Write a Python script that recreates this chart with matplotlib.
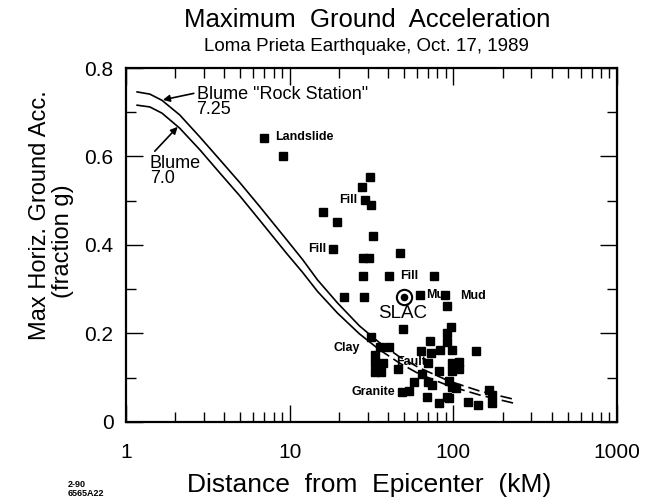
import matplotlib as mpl
from matplotlib import pyplot as plt
from matplotlib.ticker import FixedLocator, FixedFormatter, LogLocator, NullFormatter

mpl.rc('font', family='Liberation Sans')

# Blume "Rock Station" 7.25 curve
rock_x = [1.17, 1.40, 1.66, 2.13, 2.83, 3.74, 4.96, 6.56, 9.58, 12.0, 14.8,
          19.6, 26.7, 35.4, 46.9, 62.1, 94.6, 144, 229]
rock_y = [0.746, 0.741, 0.727, 0.694, 0.644, 0.593, 0.541, 0.487, 0.412, 0.367,
          0.321, 0.269, 0.217, 0.179, 0.147, 0.122, 0.092, 0.070, 0.052]

# Blume 7.0 curve
b70_x = [1.17, 1.40, 1.66, 2.13, 2.83, 3.74, 4.96, 6.56, 9.58, 12.0, 14.8,
         19.6, 26.7, 35.4, 46.9, 62.1, 94.6, 144, 242]
b70_y = [0.716, 0.712, 0.698, 0.664, 0.615, 0.563, 0.511, 0.456, 0.381, 0.338,
         0.295, 0.246, 0.199, 0.163, 0.133, 0.108, 0.081, 0.061, 0.041]

# index where the curves turn dashed
dash_from = 13

# recording stations
sta_dist = [6.94, 9.07, 31.2, 27.5, 28.7, 31.6, 16.1, 19.4, 32.1, 18.3, 27.9, 30.7,
            47.5, 27.9, 40.2, 76.6, 21.6, 28.3, 62.9, 89.4, 91.9, 49.5, 97.2, 91.9,
            31.6, 72.4, 91.9, 35.9, 40.7, 63.8, 73.4, 83.3, 98.6, 138, 33.4, 33.4,
            37.4, 33.4, 36.4, 46.2, 109, 98.6, 70.4, 109, 98.6, 82.2, 64.7, 94.6,
            70.4, 57.8, 74.5, 98.6, 104, 48.9, 53.9, 69.4, 91.9, 82.2, 94.6, 123,
            142, 173, 173, 166]
sta_acc = [0.642, 0.601, 0.554, 0.531, 0.502, 0.490, 0.475, 0.452, 0.420, 0.391,
           0.371, 0.371, 0.382, 0.330, 0.330, 0.330, 0.282, 0.282, 0.287, 0.287,
           0.262, 0.210, 0.215, 0.201, 0.192, 0.183, 0.181, 0.169, 0.169, 0.160,
           0.156, 0.163, 0.163, 0.160, 0.151, 0.133, 0.133, 0.113, 0.113, 0.120,
           0.136, 0.133, 0.133, 0.120, 0.115, 0.115, 0.108, 0.093, 0.090, 0.090,
           0.084, 0.079, 0.077, 0.068, 0.070, 0.056, 0.056, 0.043, 0.054, 0.045,
           0.038, 0.061, 0.043, 0.072]

slac_dist = [50.3]
slac_acc = [0.282]

y_ticks = [0, 0.2, 0.4, 0.6, 0.8]
y_tick_labels = ['0', '0.2', '0.4', '0.6', '0.8']
x_ticks = [1, 10, 100, 1000]
x_tick_labels = ['1', '10', '100', '1000']

fig = plt.figure(figsize=(6.46, 5.04), dpi=100)
ax = fig.add_axes([0.195, 0.163, 0.760, 0.702])

# curves: solid then dashed tail
ax.plot(rock_x[:dash_from + 1], rock_y[:dash_from + 1], color='black', lw=1.2)
ax.plot(rock_x[dash_from:], rock_y[dash_from:], color='black', lw=1.2, dashes=(7, 3))
ax.plot(b70_x[:dash_from + 1], b70_y[:dash_from + 1], color='black', lw=1.2)
ax.plot(b70_x[dash_from:], b70_y[dash_from:], color='black', lw=1.2, dashes=(7, 3))

# stations
ax.plot(sta_dist, sta_acc, linestyle='none', marker='s', markersize=5.5,
        color='black')
ax.plot(slac_dist, slac_acc, linestyle='none', marker='o', markersize=11,
        markerfacecolor='white', markeredgecolor='black', markeredgewidth=1.5)
ax.plot(slac_dist, slac_acc, linestyle='none', marker='o', markersize=4.5,
        color='black')

# site labels
lab = dict(fontsize=9, fontweight='bold', va='center')
ax.text(8.1, 0.645, 'Landslide', ha='left', **lab)
ax.text(26.0, 0.502, 'Fill', ha='right', **lab)
ax.text(16.8, 0.391, 'Fill', ha='right', **lab)
ax.text(47.5, 0.330, 'Fill', ha='left', **lab)
ax.text(68.2, 0.287, 'Mu', ha='left', **lab)
ax.text(109.7, 0.284, 'Mud', ha='left', **lab)
ax.text(27.1, 0.167, 'Clay', ha='right', **lab)
ax.text(44.7, 0.136, 'Fault', ha='left', **lab)
ax.text(44.3, 0.068, 'Granite', ha='right', **lab)
ax.text(48.9, 0.246, 'SLAC', ha='center', va='center', fontsize=13.5)

# curve annotations
ax.annotate('Blume "Rock Station"\n7.25', xy=(1.68, 0.728), xytext=(2.70, 0.760),
            fontsize=13, va='top', ha='left', linespacing=0.85,
            arrowprops=dict(arrowstyle='-|>', color='black', lw=1.2,
                            mutation_scale=10, shrinkA=0, shrinkB=0,
                            relpos=(0, 0.78)))
ax.annotate('', xy=(2.07, 0.667), xytext=(1.50, 0.612),
            arrowprops=dict(arrowstyle='-|>', color='black', lw=1.2,
                            mutation_scale=10, shrinkA=0, shrinkB=0))
ax.text(1.40, 0.604, 'Blume\n7.0', fontsize=13, va='top', ha='left',
        linespacing=0.85)

ax.set_xscale('log')
ax.set_xlim(1, 1000)
ax.set_ylim(0, 0.8)
ax.xaxis.set_major_locator(FixedLocator(x_ticks))
ax.xaxis.set_major_formatter(FixedFormatter(x_tick_labels))
ax.xaxis.set_minor_locator(LogLocator(base=10, subs=range(2, 10)))
ax.xaxis.set_minor_formatter(NullFormatter())
ax.yaxis.set_major_locator(FixedLocator(y_ticks))
ax.yaxis.set_major_formatter(FixedFormatter(y_tick_labels))
ax.yaxis.set_minor_locator(FixedLocator([0.1, 0.3, 0.5, 0.7]))

ax.tick_params(which='both', direction='in', top=True, right=True, width=1.0,
               labelsize=15)
ax.tick_params(which='major', length=12)
ax.tick_params(which='minor', length=7)
ax.tick_params(axis='x', which='major', pad=15)
ax.tick_params(axis='y', which='major', pad=9)
for sp in ax.spines.values():
    sp.set_linewidth(1.6)

# titles and axis labels
fig.text(0.568, 0.960, 'Maximum  Ground  Acceleration', ha='center', va='center',
         fontsize=18.5)
fig.text(0.567, 0.907, 'Loma Prieta Earthquake, Oct. 17, 1989', ha='center',
         va='center', fontsize=13.5)
fig.text(0.572, 0.038, 'Distance  from  Epicenter  (kM)', ha='center', va='center',
         fontsize=19)
fig.text(0.062, 0.573, 'Max Horiz. Ground Acc.', rotation=90, ha='center',
         va='center', fontsize=17)
fig.text(0.098, 0.522, '(fraction g)', rotation=90, ha='center', va='center',
         fontsize=17)
fig.text(0.105, 0.030, '2-90\n6565A22', ha='left', va='center', fontsize=6.5,
         fontweight='bold', linespacing=1.0)

fig.savefig('out.png', dpi=100)
